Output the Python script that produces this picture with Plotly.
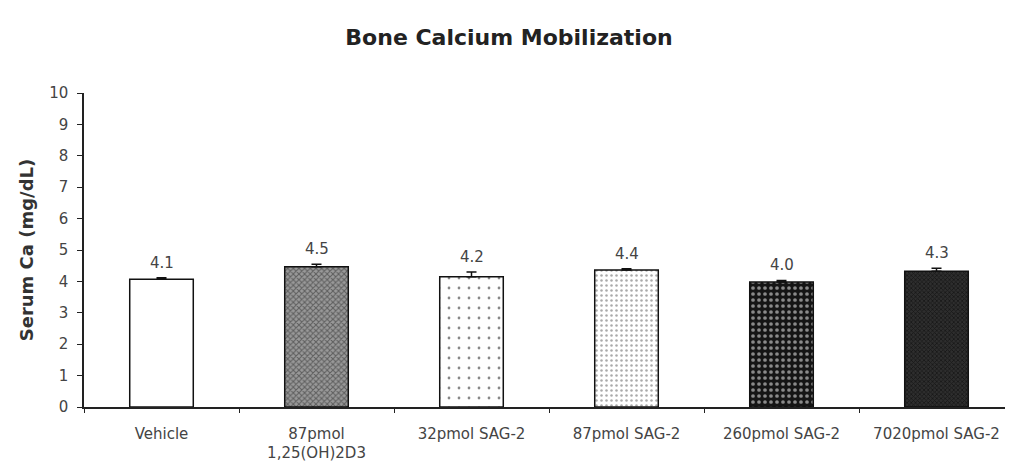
import plotly.graph_objects as go

categories = ["Vehicle", "87pmol<br>1,25(OH)2D3", "32pmol SAG-2", "87pmol SAG-2", "260pmol SAG-2", "7020pmol SAG-2"]
values = [4.07, 4.47, 4.15, 4.36, 3.98, 4.32]
errors = [0.05, 0.08, 0.15, 0.04, 0.05, 0.10]
value_labels = ["4.1", "4.5", "4.2", "4.4", "4.0", "4.3"]
y_ticks = list(range(0, 11))

FONT = "DejaVu Sans, Verdana, sans-serif"

patterns = [
    dict(shape="", bgcolor="white"),
    dict(shape="x", fgcolor="#222222", bgcolor="#999999", size=4, solidity=0.45),
    dict(shape=".", fgcolor="#111111", bgcolor="white", size=10, solidity=0.06),
    dict(shape=".", fgcolor="#555555", bgcolor="white", size=5, solidity=0.2),
    dict(shape=".", fgcolor="white", bgcolor="#151515", size=6, solidity=0.3),
    dict(shape="x", fgcolor="#000000", bgcolor="#2e2e2e", size=3, solidity=0.45),
]

fig = go.Figure()
for i, cat in enumerate(categories):
    p = patterns[i]
    fig.add_trace(go.Bar(
        x=[cat], y=[values[i]],
        width=0.41,
        marker=dict(color=p["bgcolor"], line=dict(color="#111111", width=1.5),
                    pattern=p),
        error_y=dict(type="data", array=[errors[i]], arrayminus=[0], symmetric=False,
                     color="#111111", thickness=1.5, width=5),
        showlegend=False,
    ))
    fig.add_annotation(x=cat, y=values[i] + errors[i], text=value_labels[i],
                       showarrow=False, yanchor="bottom", yshift=4,
                       font=dict(family=FONT, size=15, color="#444444"))

fig.update_layout(
    width=1013, height=465,
    margin=dict(l=76, r=7, t=85, b=66),
    plot_bgcolor="white", paper_bgcolor="white",
    title=dict(text="<b>Bone Calcium Mobilization</b>", xref="container", x=0.4946, xanchor="center",
               yref="container", y=0.9376, yanchor="middle",
               font=dict(family=FONT, size=22, color="#222222")),
    font=dict(family=FONT, size=15, color="#444444"),
)
fig.update_xaxes(
    type="category", showline=True, linecolor="#222222", linewidth=1.5,
    ticks="outside", tickson="boundaries", ticklen=4, tickcolor="#222222",
    tickfont=dict(family=FONT, size=15, color="#444444"), showgrid=False,
    ticklabelstandoff=12, automargin=False,
)
fig.update_yaxes(
    range=[0, 10], tickvals=y_ticks, showline=True, linecolor="#222222", linewidth=1.5,
    ticks="outside", ticklen=5, tickcolor="#222222", showgrid=False, zeroline=False,
    tickfont=dict(family=FONT, size=15, color="#444444"), automargin=False,
    ticklabelstandoff=6,
    title=dict(text="<b>Serum Ca (mg/dL)</b>", font=dict(family=FONT, size=18, color="#333333"), standoff=11),
)

fig.write_html("out.html")
